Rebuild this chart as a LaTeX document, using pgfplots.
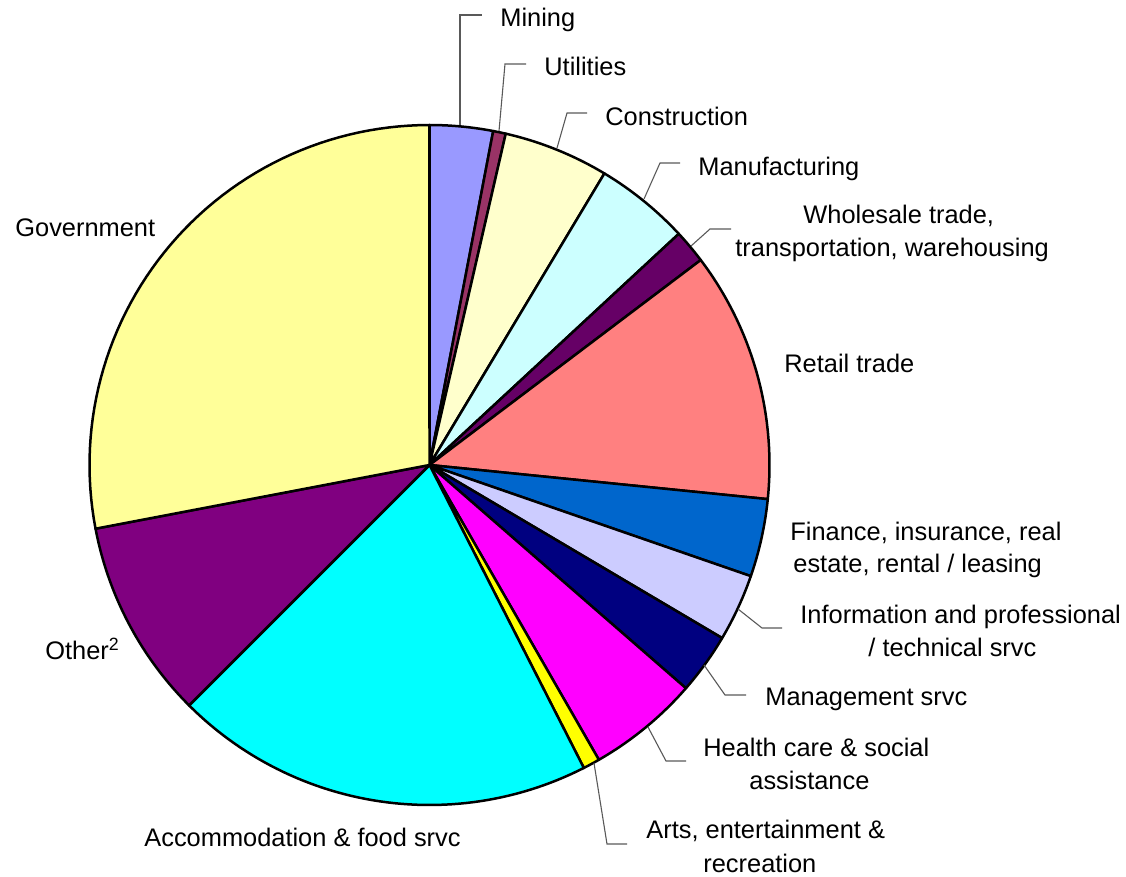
\documentclass[border=0pt]{standalone}
\usepackage{pgfplots}
\pgfplotsset{compat=1.18}
\usepackage{pgfplotstable}
\usepackage{fontspec}
\setmainfont{Liberation Sans}
\definecolor{c0}{HTML}{9999FF}
\definecolor{c1}{HTML}{993366}
\definecolor{c2}{HTML}{FFFFCC}
\definecolor{c3}{HTML}{CCFFFF}
\definecolor{c4}{HTML}{660066}
\definecolor{c5}{HTML}{FF8080}
\definecolor{c6}{HTML}{0066CC}
\definecolor{c7}{HTML}{CCCCFF}
\definecolor{c8}{HTML}{000080}
\definecolor{c9}{HTML}{FF00FF}
\definecolor{c10}{HTML}{FFFF00}
\definecolor{c11}{HTML}{00FFFF}
\definecolor{c12}{HTML}{800080}
\definecolor{c13}{HTML}{FFFF99}
\pgfplotstableread{
sector value
Mining 3.0
Utilities 0.6
Construction 5.0
Manufacturing 4.5
Wholesale 1.6
Retail 11.9
Finance 3.7
Information 3.2
Management 2.9
Health 5.3
Arts 0.8
Accommodation 20.0
Other 9.5
Government 28.0
}\pietable
\begin{document}
\begin{tikzpicture}[font=\fontsize{12.7}{15.5}\selectfont,
  ld/.style={draw=black!65, line width=0.55pt},
  lbl/.style={anchor=base west, inner sep=0pt}]
\begin{axis}[name=ax, at={(0,0)}, anchor=south west,
  width=563pt, height=438.5pt, scale only axis,
  xmin=0, xmax=1126, ymin=0, ymax=877, y dir=reverse,
  hide axis, clip=false]
\gdef\cumsum{0}%
\pgfplotsforeachungrouped \i in {0,...,13}{%
  \pgfplotstablegetelem{\i}{value}\of\pietable
  \pgfmathsetmacro\a{\cumsum*3.6}%
  \pgfmathsetmacro\newcum{\cumsum+\pgfplotsretval}%
  \pgfmathsetmacro\b{\newcum*3.6}%
  \xdef\cumsum{\newcum}%
  \edef\temp{\noexpand\addplot[fill=c\i, draw=black, line width=1.25pt, line join=round, domain=\a:\b, samples=60] ({429.5+340*sin(x)},{465-340*cos(x)}) -- (axis cs:429.5,465) -- cycle;}%
  \temp
}
% leader lines
\draw[ld] (axis cs:460,125) -- (axis cs:460,15) -- (axis cs:482,15);
\draw[ld] (axis cs:499,131) -- (axis cs:505,64) -- (axis cs:526,64);
\draw[ld] (axis cs:557,148) -- (axis cs:567,113) -- (axis cs:587,113);
\draw[ld] (axis cs:644,199) -- (axis cs:660,163) -- (axis cs:680,163);
\draw[ld] (axis cs:691,246) -- (axis cs:710,229) -- (axis cs:731,229);
\draw[ld] (axis cs:738,609) -- (axis cs:762,628) -- (axis cs:782,628);
\draw[ld] (axis cs:704,665) -- (axis cs:725,695) -- (axis cs:746,695);
\draw[ld] (axis cs:648,727) -- (axis cs:666,761) -- (axis cs:686,761);
\draw[ld] (axis cs:594,763) -- (axis cs:607,844) -- (axis cs:627,844);
% labels
\node[lbl] at (axis cs:500,27) {Mining};
\node[lbl] at (axis cs:544,76) {Utilities};
\node[lbl] at (axis cs:605,126) {Construction};
\node[lbl] at (axis cs:698,176) {Manufacturing};
\node[lbl] at (axis cs:803,224) {Wholesale trade,};
\node[lbl] at (axis cs:735,257) {transportation, warehousing};
\node[lbl] at (axis cs:784,373) {Retail trade};
\node[lbl] at (axis cs:790,541) {Finance, insurance, real};
\node[lbl] at (axis cs:793,573) {estate, rental / leasing};
\node[lbl] at (axis cs:800,624) {Information and professional};
\node[lbl] at (axis cs:868,656) {/ technical srvc};
\node[lbl] at (axis cs:765,705) {Management srvc};
\node[lbl] at (axis cs:703,756) {Health care \& social};
\node[lbl] at (axis cs:749,789) {assistance};
\node[lbl] at (axis cs:646,838) {Arts, entertainment \&};
\node[lbl] at (axis cs:703,872) {recreation};
\node[lbl] at (axis cs:144,846) {Accommodation \& food srvc};
\node[lbl] at (axis cs:45,659) {Other\textsuperscript{2}};
\node[lbl] at (axis cs:15,237) {Government};
\end{axis}
\pgfresetboundingbox
\path (ax.south west) rectangle (ax.north east);
\end{tikzpicture}
\end{document}
